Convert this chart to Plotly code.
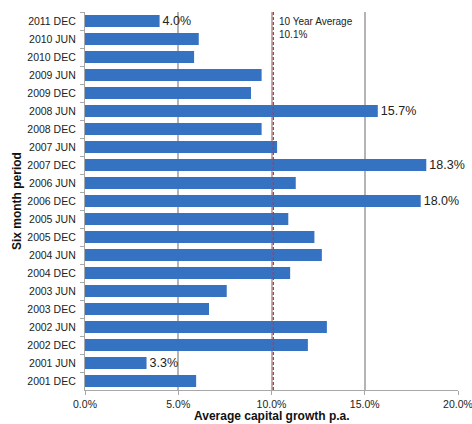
import plotly.graph_objects as go

periods = ["2011 DEC", "2010 JUN", "2010 DEC", "2009 JUN", "2009 DEC", "2008 JUN",
           "2008 DEC", "2007 JUN", "2007 DEC", "2006 JUN", "2006 DEC", "2005 JUN",
           "2005 DEC", "2004 JUN", "2004 DEC", "2003 JUN", "2003 DEC", "2002 JUN",
           "2002 DEC", "2001 JUN", "2001 DEC"]
growth = [4.0, 6.1, 5.85, 9.47, 8.9, 15.7, 9.47, 10.3, 18.3, 11.3, 18.0, 10.9,
          12.3, 12.7, 11.0, 7.6, 6.65, 12.97, 11.95, 3.3, 5.96]
labelled = {"2011 DEC": "4.0%", "2008 JUN": "15.7%", "2007 DEC": "18.3%",
            "2006 DEC": "18.0%", "2001 JUN": "3.3%"}
average = 10.1
x_ticks = [0, 5, 10, 15, 20]
x_tick_text = ["0.0%", "5.0%", "10.0%", "15.0%", "20.0%"]

texts = [labelled.get(p, "") for p in periods]

fig = go.Figure()
fig.add_trace(go.Bar(
    y=periods, x=growth, orientation="h",
    marker=dict(color="#3672C2", line=dict(width=0)),
    text=texts, textposition="outside", cliponaxis=False, constraintext="none",
    textfont=dict(family="Liberation Sans, Arial", size=12.5, color="#222222"),
    hoverinfo="x+y",
))

fig.add_shape(type="line", xref="x", yref="paper", x0=average, x1=average, y0=0, y1=1,
              layer="above",
              line=dict(color="#E8262A", width=1.3, dash="3px,2px"))
fig.add_annotation(xref="x", yref="paper", x=average, y=0.995, xanchor="left", yanchor="top",
                   xshift=4, align="left", showarrow=False,
                   text="10 Year Average<br>10.1%",
                   font=dict(family="Liberation Sans, Arial", size=10, color="#222222"))

# axis titles as annotations for exact placement
fig.add_annotation(xref="paper", yref="paper", x=0.5, y=-0.069, xanchor="center",
                   yanchor="middle", showarrow=False,
                   text="<b>Average capital growth p.a.</b>",
                   font=dict(family="Liberation Sans, Arial", size=12, color="#111111"))
fig.add_annotation(xref="paper", yref="paper", x=-0.182, y=0.5, xanchor="center",
                   yanchor="middle", showarrow=False, textangle=-90,
                   text="<b>Six month period</b>",
                   font=dict(family="Liberation Sans, Arial", size=12, color="#111111"))

fig.update_layout(
    width=472, height=424,
    margin=dict(l=85, r=14, t=12, b=34),
    plot_bgcolor="white", paper_bgcolor="white",
    bargap=0.34, showlegend=False,
    font=dict(family="Liberation Sans, Arial", size=10.5, color="#222222"),
)
fig.update_xaxes(
    range=[0, 20], tickvals=x_ticks, ticktext=x_tick_text,
    showgrid=True, gridcolor="#B4B4B4", gridwidth=1.5,
    showline=True, linecolor="#A8A8A8", linewidth=1.2,
    ticks="outside", ticklen=4, tickcolor="#A8A8A8", ticklabelstandoff=0,
    ticklabeloverflow="allow",
    zeroline=False, automargin=False,
)
fig.update_yaxes(
    categoryorder="array", categoryarray=periods, autorange="reversed",
    showline=True, linecolor="#A8A8A8", linewidth=1.2,
    ticks="outside", ticklen=4, tickcolor="#A8A8A8", tickson="boundaries",
    ticklabelstandoff=6,
    showgrid=False, automargin=False,
)

fig.write_html("out.html")
